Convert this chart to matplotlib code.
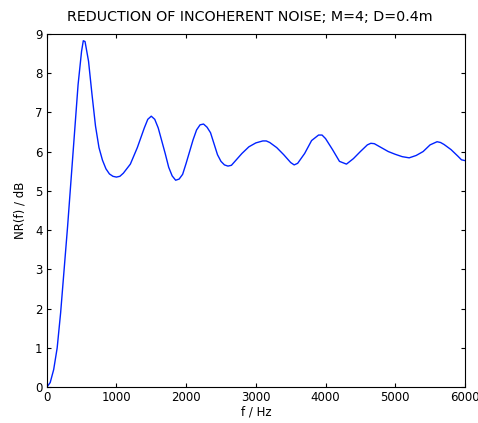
import matplotlib
matplotlib.use('Agg')
import matplotlib.pyplot as plt

# frequency (Hz) and noise reduction (dB)
freq = [0, 50, 100, 150, 200, 250, 300, 350, 400, 450, 500, 525, 550, 600,
        650, 700, 750, 800, 850, 900, 950, 1000, 1050, 1100, 1200, 1300, 1400,
        1450, 1500, 1550, 1600, 1700, 1750, 1800, 1850, 1900, 1950, 2000, 2050,
        2100, 2150, 2200, 2250, 2300, 2350, 2400, 2450, 2500, 2550, 2600, 2650,
        2700, 2800, 2900, 3000, 3100, 3150, 3200, 3300, 3400, 3500, 3550, 3600,
        3700, 3800, 3900, 3950, 4000, 4100, 4200, 4300, 4400, 4500, 4600, 4650,
        4700, 4800, 4900, 5000, 5100, 5200, 5300, 5400, 5500, 5600, 5650, 5700,
        5800, 5900, 5950, 6000]
nr_db = [0.0, 0.12, 0.45, 1.0, 1.9, 3.0, 4.1, 5.3, 6.5, 7.7, 8.55, 8.82, 8.8, 8.3,
         7.45, 6.65, 6.1, 5.78, 5.56, 5.43, 5.37, 5.35, 5.37, 5.45, 5.68, 6.1, 6.6,
         6.82, 6.9, 6.82, 6.6, 5.95, 5.6, 5.38, 5.27, 5.3, 5.42, 5.7, 6.0,
         6.3, 6.55, 6.68, 6.7, 6.62, 6.48, 6.2, 5.92, 5.75, 5.66, 5.63, 5.65,
         5.75, 5.95, 6.12, 6.22, 6.27, 6.27, 6.23, 6.1, 5.92, 5.72, 5.66, 5.7,
         5.95, 6.28, 6.42, 6.42, 6.33, 6.05, 5.75, 5.68, 5.82, 6.0, 6.17, 6.21,
         6.2, 6.1, 6.0, 5.93, 5.87, 5.84, 5.9, 6.0, 6.17, 6.25, 6.23, 6.18,
         6.05, 5.88, 5.79, 5.77]

xticks = [0, 1000, 2000, 3000, 4000, 5000, 6000]
yticks = [0, 1, 2, 3, 4, 5, 6, 7, 8, 9]

plt.rcParams['font.family'] = ['DejaVu Sans']

fig = plt.figure(figsize=(4.78, 4.23), dpi=100)
ax = fig.add_axes([0.0977, 0.0844, 0.875, 0.836])

ax.plot(freq, nr_db, color='#0022ff', linewidth=1.0)

ax.set_xlim(0, 6000)
ax.set_ylim(0, 9)
ax.set_xticks(xticks)
ax.set_yticks(yticks)
ax.tick_params(direction='in', length=3, width=0.8, top=True, right=True,
               labelsize=8.5, pad=3)
for s in ax.spines.values():
    s.set_linewidth(0.8)

ax.set_xlabel('f / Hz', fontsize=8.5, labelpad=1)
ax.set_ylabel('NR(f) / dB', fontsize=8.5, labelpad=6)
ax.set_title('REDUCTION OF INCOHERENT NOISE; M=4; D=0.4m', fontsize=10.3, pad=9,
             x=0.485)

fig.savefig('out.png', dpi=100)
